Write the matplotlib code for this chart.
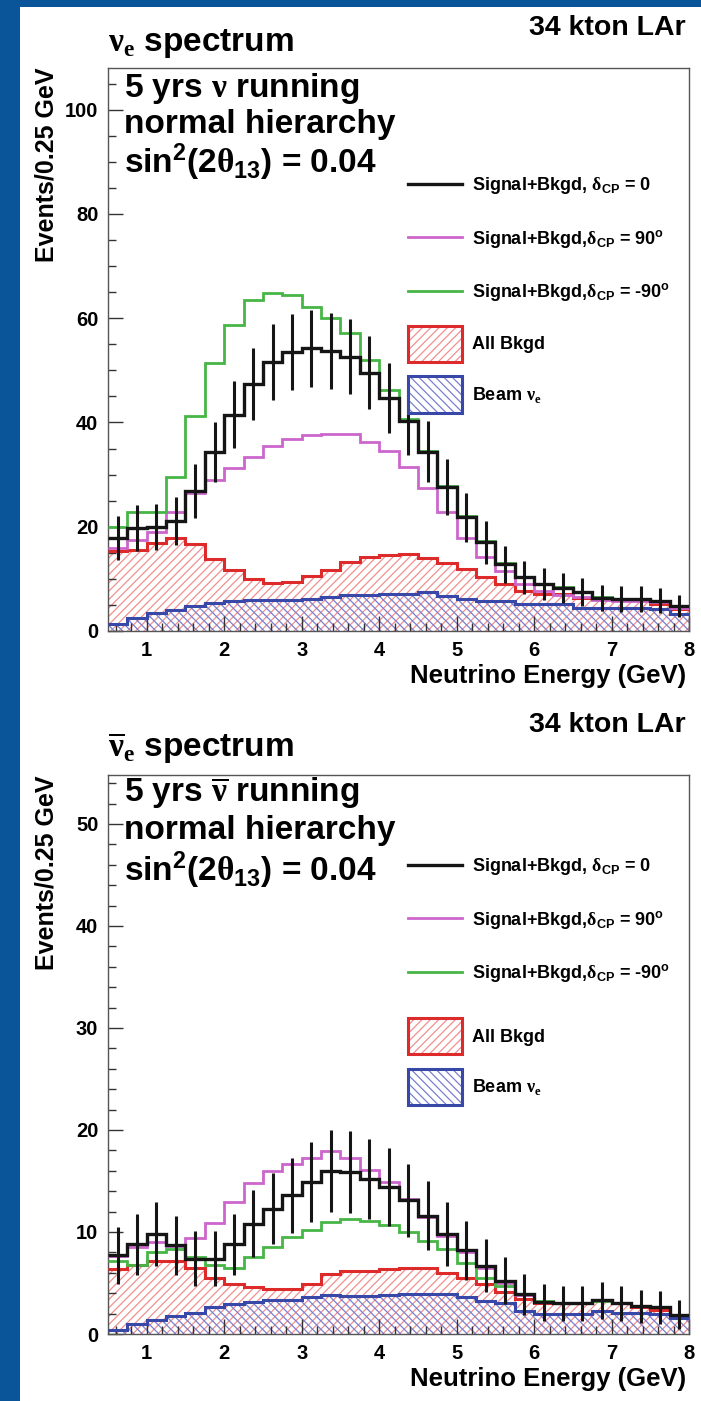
import numpy as np
import matplotlib.pyplot as plt
from matplotlib.patches import Rectangle, Patch
from matplotlib.lines import Line2D
from matplotlib.ticker import MultipleLocator

plt.rcParams['font.family'] = ['Liberation Sans', 'DejaVu Sans']
plt.rcParams['font.weight'] = 'bold'
plt.rcParams['mathtext.fontset'] = 'custom'
plt.rcParams['mathtext.rm'] = 'Liberation Serif'
plt.rcParams['mathtext.bf'] = 'Liberation Sans:bold'
plt.rcParams['mathtext.it'] = 'Liberation Sans:bold:italic'
plt.rcParams['mathtext.default'] = 'bf'
plt.rcParams['hatch.linewidth'] = 0.9

# binning: 0.25 GeV bins between 0.5 and 8 GeV
e_lo, e_hi, e_step = 0.5, 8.0, 0.25

# ---- neutrino running (top panel) ----
nu_cp0 = [17.8, 19.7, 19.9, 21.1, 26.8, 34.3, 41.5, 47.4, 51.6, 53.5, 54.2, 53.7, 52.6,
          49.5, 44.7, 40.2, 34.4, 27.6, 21.8, 17.0, 12.8, 10.3, 9.0, 8.3, 7.4, 6.4,
          6.1, 6.1, 5.8, 4.8]
nu_cp0_err = [4.2, 4.4, 4.4, 4.6, 5.2, 5.8, 6.4, 6.9, 7.2, 7.3, 7.3, 7.3, 7.2, 7.0,
              6.7, 6.4, 5.9, 5.3, 4.7, 4.1, 3.6, 3.2, 3.0, 2.9, 2.7, 2.5, 2.5, 2.5,
              2.4, 2.2]
nu_cp90 = [16.0, 17.5, 19.0, 22.8, 26.5, 28.9, 31.3, 33.3, 35.4, 36.8, 37.6, 37.8, 37.8,
           36.2, 34.5, 31.5, 27.5, 22.8, 17.9, 14.1, 11.5, 9.0, 7.7, 7.0, 6.5, 6.0,
           5.8, 5.8, 5.5, 4.5]
nu_cpm90 = [20.0, 22.9, 22.9, 29.5, 41.3, 51.4, 58.7, 63.5, 64.9, 64.4, 62.2, 60.0, 57.1,
            52.0, 46.3, 40.7, 34.5, 27.8, 22.0, 17.2, 13.0, 10.4, 9.1, 8.4, 7.4, 6.5,
            6.1, 6.1, 5.8, 4.8]
nu_bkgd = [15.4, 15.6, 16.8, 17.9, 16.6, 13.8, 11.7, 9.9, 9.3, 9.4, 10.5, 11.7, 13.3,
           14.2, 14.6, 14.8, 14.0, 13.1, 11.9, 10.3, 9.0, 7.7, 7.1, 7.1, 6.4, 6.1,
           5.9, 5.9, 5.1, 4.2]
nu_beam = [1.3, 2.5, 3.5, 4.1, 4.8, 5.4, 5.7, 6.0, 6.0, 6.0, 6.2, 6.5, 7.0, 7.0, 7.1,
           7.1, 7.4, 6.8, 6.1, 5.8, 5.8, 5.1, 5.1, 5.1, 4.5, 4.5, 4.4, 4.4, 4.2, 3.2]

# ---- antineutrino running (bottom panel) ----
anu_cp0 = [7.7, 8.8, 9.8, 8.7, 7.4, 7.4, 8.8, 10.8, 12.3, 13.6, 14.9, 16.0, 15.9, 15.2,
           14.4, 13.1, 11.6, 9.8, 8.2, 6.7, 5.2, 3.9, 3.1, 3.0, 3.0, 3.3, 3.0, 2.7,
           2.6, 1.9]
anu_cp0_err = [2.8, 3.0, 3.1, 2.9, 2.7, 2.7, 3.0, 3.3, 3.5, 3.7, 3.9, 4.0, 4.0, 3.9,
               3.8, 3.6, 3.4, 3.1, 2.9, 2.6, 2.3, 2.0, 1.8, 1.7, 1.7, 1.8, 1.7, 1.6,
               1.6, 1.4]
anu_cp90 = [7.6, 8.5, 9.0, 8.6, 9.4, 10.9, 12.9, 14.8, 16.0, 16.7, 17.3, 17.9, 17.3,
            16.1, 14.9, 13.2, 11.5, 9.6, 8.0, 6.5, 5.0, 3.8, 3.1, 3.0, 3.0, 3.2, 3.0,
            2.7, 2.6, 1.9]
anu_cpm90 = [7.2, 6.8, 8.0, 8.3, 7.5, 6.8, 6.5, 7.5, 8.5, 9.5, 10.2, 11.0, 11.3, 11.1,
             10.7, 10.0, 9.1, 8.3, 7.0, 5.5, 4.7, 3.9, 3.2, 3.0, 3.0, 3.2, 3.0, 2.7,
             2.6, 1.9]
anu_bkgd = [6.4, 6.8, 7.2, 7.2, 6.5, 5.5, 4.9, 4.6, 4.4, 4.4, 4.9, 5.9, 6.2, 6.2, 6.4,
            6.5, 6.5, 6.0, 5.5, 4.9, 4.1, 3.4, 3.0, 3.0, 3.0, 3.3, 3.0, 2.6, 2.4, 1.8]
anu_beam = [0.4, 1.0, 1.4, 1.8, 2.1, 2.6, 2.9, 3.1, 3.3, 3.3, 3.6, 3.8, 3.7, 3.7, 3.8,
            3.9, 3.9, 3.9, 3.6, 3.2, 3.0, 2.3, 2.0, 2.0, 2.0, 2.3, 2.1, 2.1, 2.0, 1.6]

line_labels = [r'Signal+Bkgd, $\mathrm{\delta}_{CP}$ = 0',
               r'Signal+Bkgd,$\mathrm{\delta}_{CP}$ = 90$^{o}$',
               r'Signal+Bkgd,$\mathrm{\delta}_{CP}$ = -90$^{o}$']
box_labels = ['All Bkgd', r'Beam $\mathrm{\nu}_{\mathrm{e}}$']

c_black = '#151515'
c_mag = '#cc66cc'
c_green = '#46b646'
c_red = '#dd2a2a'
c_pink = '#f09090'
c_blue = '#3848a8'
c_lblue = '#7a80d0'
bg_blue = '#0a5599'

W, H = 701, 1401


def fx(x):
    return x / W


def fy(y):
    return 1 - y / H


fig = plt.figure(figsize=(W / 100, H / 100), dpi=100, facecolor=bg_blue)
fig.patches.append(Rectangle((fx(20), 0), 1 - fx(20), fy(7), transform=fig.transFigure,
                             facecolor='white', edgecolor='none', zorder=-10))

edges = np.arange(e_lo, e_hi + e_step / 2, e_step)
centers = 0.5 * (edges[:-1] + edges[1:])


def draw_panel(ax, cp0, cp0_err, cp90, cpm90, bkgd, beam, ymax, major, minor,
               leg_lines_y, leg_boxes_y):
    ax.set_facecolor('white')
    # hatched backgrounds
    ax.stairs(bkgd, edges, baseline=0, fill=True, facecolor='none', edgecolor=c_pink,
              hatch='////', linewidth=0, zorder=1)
    ax.stairs(beam, edges, baseline=0, fill=True, facecolor='none', edgecolor=c_lblue,
              hatch='\\\\\\\\', linewidth=0, zorder=1)
    ax.stairs(bkgd, edges, baseline=None, color=c_red, linewidth=2.2, zorder=3)
    ax.stairs(beam, edges, baseline=None, color=c_blue, linewidth=2.2, zorder=3)
    ax.stairs(cp90, edges, baseline=None, color=c_mag, linewidth=2.0, zorder=4)
    ax.stairs(cpm90, edges, baseline=None, color=c_green, linewidth=2.0, zorder=4)
    ax.stairs(cp0, edges, baseline=None, color=c_black, linewidth=2.4, zorder=5)
    ax.errorbar(centers, cp0, yerr=cp0_err, fmt='none', ecolor=c_black, elinewidth=2.2,
                capsize=0, zorder=5)

    ax.set_xlim(e_lo, e_hi)
    ax.set_ylim(0, ymax)
    ax.xaxis.set_major_locator(MultipleLocator(1))
    ax.xaxis.set_minor_locator(MultipleLocator(0.2))
    ax.yaxis.set_major_locator(MultipleLocator(major))
    ax.yaxis.set_minor_locator(MultipleLocator(minor))
    ax.tick_params(which='both', direction='in', top=False, right=False,
                   color='#333333', width=1.0, labelsize=14.5)
    ax.tick_params(which='major', length=11)
    ax.tick_params(which='minor', length=6)
    ax.tick_params(axis='x', pad=7)
    ax.tick_params(axis='y', pad=7)
    for s in ax.spines.values():
        s.set_color('#555555')
        s.set_linewidth(1.0)

    line_handles = [Line2D([], [], color=c_black, lw=2.4),
                    Line2D([], [], color=c_mag, lw=2.0),
                    Line2D([], [], color=c_green, lw=2.0)]
    leg1 = ax.legend(line_handles, line_labels, loc='upper left',
                     bbox_to_anchor=(0.516, leg_lines_y), frameon=False, fontsize=13,
                     handlelength=3.0, labelspacing=1.75, handletextpad=0.55,
                     borderpad=0, borderaxespad=0)
    ax.add_artist(leg1)

    box_handles = [(Patch(facecolor='white', edgecolor=c_pink, hatch='////', lw=0),
                    Patch(facecolor='none', edgecolor=c_red, lw=2.2)),
                   (Patch(facecolor='white', edgecolor=c_lblue, hatch='\\\\\\\\', lw=0),
                    Patch(facecolor='none', edgecolor=c_blue, lw=2.2))]
    ax.legend(box_handles, box_labels, loc='upper left',
              bbox_to_anchor=(0.516, leg_boxes_y), frameon=False, fontsize=13,
              handlelength=3.0, handleheight=2.7, labelspacing=0.8,
              handletextpad=0.55, borderpad=0, borderaxespad=0)


# ---- top panel ----
ax1 = fig.add_axes([fx(108), fy(631), fx(689) - fx(108), fy(68) - fy(631)])
draw_panel(ax1, nu_cp0, nu_cp0_err, nu_cp90, nu_cpm90, nu_bkgd, nu_beam,
           108, 20, 5, 0.81, 0.542)

# ---- bottom panel ----
ax2 = fig.add_axes([fx(108), fy(1334), fx(689) - fx(108), fy(775) - fy(1334)])
draw_panel(ax2, anu_cp0, anu_cp0_err, anu_cp90, anu_cpm90, anu_bkgd, anu_beam,
           54.8, 10, 2, 0.855, 0.565)

# ---- texts ----
big = 24
fig.text(fx(686), fy(28), '34 kton LAr', ha='right', va='center', fontsize=20.5)
fig.text(fx(686), fy(725), '34 kton LAr', ha='right', va='center', fontsize=20.5)

fig.text(fx(108), fy(44), r'$\mathrm{\nu}_{\mathrm{e}}$ spectrum', ha='left',
         va='center', fontsize=big)
fig.text(fx(108), fy(748), r'$\overline{\mathrm{\nu}}_{\mathrm{e}}$ spectrum', ha='left',
         va='center', fontsize=big)

top_lines = [r'5 yrs $\mathrm{\nu}$ running', 'normal hierarchy',
             r'sin$^{2}$(2$\mathrm{\theta}_{13}$) = 0.04']
bot_lines = [r'5 yrs $\overline{\mathrm{\nu}}$ running', 'normal hierarchy',
             r'sin$^{2}$(2$\mathrm{\theta}_{13}$) = 0.04']
for txt, y in zip(top_lines, [88, 125, 162]):
    fig.text(fx(124), fy(y), txt, ha='left', va='center', fontsize=big)
for txt, y in zip(bot_lines, [793, 831, 870]):
    fig.text(fx(124), fy(y), txt, ha='left', va='center', fontsize=big)

fig.text(fx(47), fy(67), 'Events/0.25 GeV', rotation=90, ha='center', va='top',
         fontsize=18)
fig.text(fx(47), fy(775), 'Events/0.25 GeV', rotation=90, ha='center', va='top',
         fontsize=18)
fig.text(fx(686), fy(676), 'Neutrino Energy (GeV)', ha='right', va='center', fontsize=18.5)
fig.text(fx(686), fy(1379), 'Neutrino Energy (GeV)', ha='right', va='center', fontsize=18.5)

fig.savefig('out.png', dpi=100, facecolor=bg_blue)
